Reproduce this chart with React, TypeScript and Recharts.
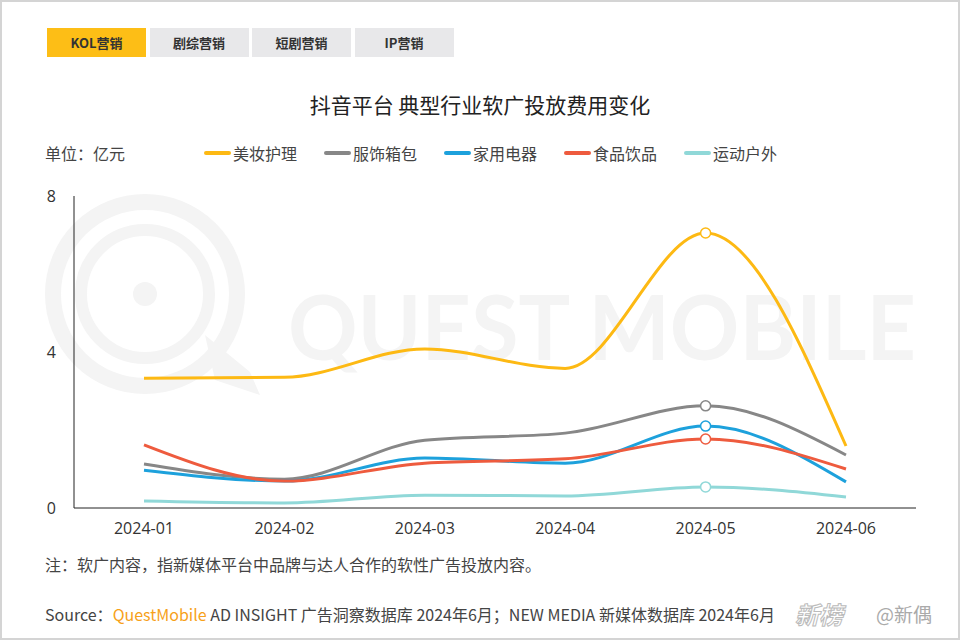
import { LineChart, Line, XAxis, YAxis } from 'recharts';

const months = ['2024-01', '2024-02', '2024-03', '2024-04', '2024-05', '2024-06'];
const beauty = [3.33, 3.35, 4.08, 3.58, 7.05, 1.59];
const apparel = [1.13, 0.74, 1.74, 1.92, 2.62, 1.36];
const appliance = [0.97, 0.69, 1.28, 1.15, 2.1, 0.67];
const food = [1.62, 0.69, 1.15, 1.26, 1.77, 1.0];
const outdoor = [0.18, 0.13, 0.33, 0.31, 0.54, 0.28];
const yTicks = [0, 4, 8];
const tabs = ['KOL营销', '剧综营销', '短剧营销', 'IP营销'];

const series = [
  { key: 'beauty', name: '美妆护理', color: '#FDB913', values: beauty },
  { key: 'apparel', name: '服饰箱包', color: '#878787', values: apparel },
  { key: 'appliance', name: '家用电器', color: '#1DA1DC', values: appliance },
  { key: 'food', name: '食品饮品', color: '#EE5B3E', values: food },
  { key: 'outdoor', name: '运动户外', color: '#90D8D8', values: outdoor },
];

const data = months.map((month, i) => {
  const row: Record<string, string | number> = { month };
  series.forEach((s) => {
    row[s.key] = s.values[i];
  });
  return row;
});

const FONT = "'Open Sans', 'Noto Sans CJK SC', sans-serif";
const CJK = "'Noto Sans CJK SC', 'Open Sans', sans-serif";

function peakDot(color: string) {
  return (props: any) => {
    const { cx, cy, index } = props;
    if (index !== 4) return <g key={`d-${index}`} />;
    return (
      <circle key={`d-${index}`} cx={cx} cy={cy} r={5} fill="#fff" stroke={color} strokeWidth={1.5} />
    );
  };
}

function Watermark() {
  const c = '#f4f4f4';
  return (
    <svg width={960} height={640} style={{ position: 'absolute', left: 0, top: 0 }}>
      <circle cx={145} cy={294} r={92} fill="none" stroke={c} strokeWidth={16} />
      <circle cx={145} cy={294} r={64} fill="none" stroke={c} strokeWidth={12} />
      <circle cx={145} cy={294} r={12} fill={c} />
      <path d="M205 335 L250 372 L260 395 L215 380 Z" fill={c} />
      <text
        x={288}
        y={360}
        fontFamily="Lato, 'Open Sans', sans-serif"
        fontWeight={700}
        fontSize={90}
        fill={c}
        textLength={628}
        lengthAdjust="spacingAndGlyphs"
      >
        QUEST MOBILE
      </text>
    </svg>
  );
}

export default function App() {
  return (
    <div
      style={{
        position: 'absolute',
        left: 0,
        top: 0,
        width: 960,
        height: 640,
        boxSizing: 'border-box',
        border: '2px solid #d4d4d4',
        background: '#fff',
        fontFamily: CJK,
        color: '#333',
        overflow: 'hidden',
      }}
    >
      <div style={{ position: 'absolute', left: -2, top: -2, width: 960, height: 640 }}>
        <Watermark />

        {tabs.map((t, i) => (
          <div
            key={t}
            style={{
              position: 'absolute',
              left: 47 + i * 102.5,
              top: 28,
              width: 99,
              height: 29,
              background: i === 0 ? '#FDBE16' : '#E8E8EA',
              fontSize: 13,
              fontWeight: 700,
              lineHeight: '29px',
              textAlign: 'center',
              color: '#333',
            }}
          >
            {t}
          </div>
        ))}

        <div
          style={{
            position: 'absolute',
            left: 0,
            width: 960,
            top: 90,
            textAlign: 'center',
            fontSize: 21,
            fontWeight: 400,
            color: '#222',
            lineHeight: '28px',
          }}
        >
          抖音平台 典型行业软广投放费用变化
        </div>

        <div style={{ position: 'absolute', left: 45, top: 142, fontSize: 16, color: '#444', lineHeight: '22px' }}>
          单位：亿元
        </div>

        {series.map((s, i) => (
          <div
            key={s.key}
            style={{
              position: 'absolute',
              left: 204 + i * 120,
              top: 142,
              display: 'flex',
              alignItems: 'center',
              fontSize: 16,
              color: '#444',
              lineHeight: '22px',
            }}
          >
            <span style={{ display: 'inline-block', width: 27, height: 4, borderRadius: 2, background: s.color, marginRight: 2 }} />
            {s.name}
          </div>
        ))}

        <div style={{ position: 'absolute', left: 0, top: 0 }}>
          <LineChart width={960} height={640} data={data} margin={{ top: 196, right: 44, bottom: 102, left: 44 }}>
            <XAxis
              dataKey="month"
              padding={{ left: 70, right: 70 }}
              axisLine={{ stroke: '#222', strokeWidth: 1 }}
              tickLine={false}
              tickSize={0}
              tickMargin={15}
              height={30}
              tick={{ fill: '#333', fontSize: 16, fontFamily: FONT }}
            />
            <YAxis
              domain={[0, 8]}
              ticks={yTicks}
              width={30}
              axisLine={{ stroke: '#222', strokeWidth: 1 }}
              tickLine={false}
              tickSize={0}
              tickMargin={18}
              tick={{ fill: '#333', fontSize: 16, fontFamily: FONT }}
            />
            {series.map((s) => (
              <Line
                key={s.key}
                type="monotone"
                dataKey={s.key}
                name={s.name}
                stroke={s.color}
                strokeWidth={3}
                dot={peakDot(s.color)}
                activeDot={false}
                isAnimationActive={false}
              />
            ))}
          </LineChart>
        </div>

        <div style={{ position: 'absolute', left: 45, top: 553, fontSize: 16, color: '#444', lineHeight: '22px' }}>
          注：软广内容，指新媒体平台中品牌与达人合作的软性广告投放内容。
        </div>

        <div
          style={{
            position: 'absolute',
            left: 45,
            top: 603,
            fontSize: 16,
            color: '#444',
            lineHeight: '22px',
            whiteSpace: 'nowrap',
          }}
        >
          Source：<span style={{ color: '#F7A11A' }}>QuestMobile</span> AD INSIGHT 广告洞察数据库 2024年6月；NEW MEDIA 新媒体数据库 2024年6月
        </div>

        <div
          style={{
            position: 'absolute',
            left: 795,
            top: 599,
            fontSize: 24,
            fontStyle: 'italic',
            fontWeight: 700,
            color: '#fff',
            WebkitTextStroke: '1px #bbb',
            lineHeight: '30px',
          }}
        >
          新榜
        </div>
        <div style={{ position: 'absolute', left: 876, top: 601, fontSize: 19, color: '#aaa', lineHeight: '26px' }}>
          @新偶
        </div>
      </div>
    </div>
  );
}
